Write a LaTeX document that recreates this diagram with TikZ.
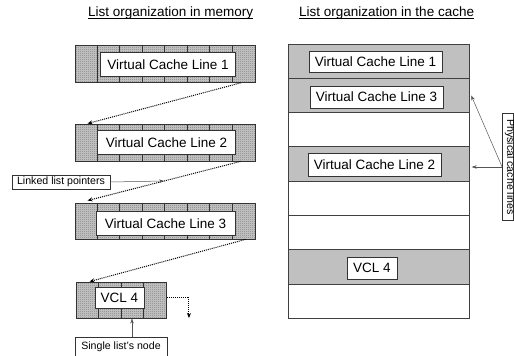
\documentclass[tikz,border=0pt]{standalone}
\usepackage{fontspec}
\setmainfont{Liberation Sans}
\usetikzlibrary{patterns,calc,arrows.meta}
\definecolor{ink}{HTML}{333333}
\definecolor{linegray}{HTML}{404040}
\definecolor{cachegray}{HTML}{C0C0C0}
\definecolor{capgray}{HTML}{C8C8C8}
\definecolor{stipple}{HTML}{808080}
\definecolor{leadgray}{HTML}{555555}

% fine checkerboard stipple used for the memory rows
\pgfdeclarepatternformonly{finestipple}{\pgfpointorigin}{\pgfqpoint{2pt}{2pt}}{\pgfqpoint{2pt}{2pt}}{%
  \pgfpathrectangle{\pgfpointorigin}{\pgfqpoint{1pt}{1pt}}%
  \pgfpathrectangle{\pgfqpoint{1pt}{1pt}}{\pgfqpoint{1pt}{1pt}}%
  \pgfusepath{fill}}

% one stippled memory row: name, centre x, centre y, number of cells, height
\newcommand\memrow[5]{%
  \node[memblk, minimum width=#4*22.5pt, minimum height=#5pt] (#1) at (#2,#3) {};
  \pgfmathtruncatemacro\lastcell{#4-1}
  \foreach \k in {1,...,\lastcell}{
    \draw[ink, line width=0.9pt] ($(#1.north west)+(\k*22.5,0)$) -- ($(#1.south west)+(\k*22.5,0)$);
  }%
}

\begin{document}
\begin{tikzpicture}[x=1pt,y=-1pt,
  every node/.style={inner sep=0pt, text=black},
  big/.style={font=\fontsize{13.5}{16}\selectfont},
  small/.style={font=\fontsize{10.6}{12}\selectfont},
  memblk/.style={draw=ink, line width=0.9pt, preaction={fill=capgray},
                 pattern=finestipple, pattern color=stipple},
  vbox/.style={draw=ink, line width=0.9pt, fill=white, big, minimum height=24pt},
  crow/.style={draw=linegray, line width=0.9pt, minimum width=181pt, minimum height=34.3pt},
  notebox/.style={draw=ink, line width=0.7pt, fill=white, small, inner xsep=5pt, inner ysep=2pt},
  ptr/.style={dash pattern=on 1pt off 1pt, line width=1pt, -{Stealth[length=5pt,width=4pt]}},
  lead/.style={draw=leadgray, line width=0.5pt, -{Stealth[length=5pt,width=3.5pt]}},
]
\useasboundingbox (0,0) rectangle (514,356);

% titles
\node[big, anchor=base west] (t1) at (88,16.7) {List organization in memory};
\node[big, anchor=base west] (t2) at (299,16.7) {List organization in the cache};
\draw[line width=0.6pt] ($(t1.base west)+(0,1.8)$) -- ($(t1.base east)+(0,1.8)$);
\draw[line width=0.6pt] ($(t2.base west)+(0,1.8)$) -- ($(t2.base east)+(0,1.8)$);

% list in memory
\memrow{m1}{165}{63.5}{8}{37}
\node[vbox, minimum width=135pt] (v1) at (168,64.5) {Virtual Cache Line 1};
\memrow{m2}{165}{142.5}{8}{37}
\node[vbox, minimum width=138pt] (v2) at (166.5,142.5) {Virtual Cache Line 2};
\memrow{m3}{165}{221}{8}{36}
\node[vbox, minimum width=139pt] (v3) at (165.5,223.5) {Virtual Cache Line 3};
\memrow{m4}{121.5}{300}{4}{36}
\node[vbox, minimum width=49pt, minimum height=21pt] (v4) at (119.5,298) {VCL 4};

% next pointers
\coordinate (p1s) at ($(m1.south east)+(-15,0.5)$);
\coordinate (p1e) at ($(m2.north west)+(13,0)$);
\coordinate (p2s) at ($(m2.south east)+(-15,0)$);
\coordinate (p2e) at ($(m3.north west)+(13,-2)$);
\coordinate (p3s) at ($(m3.south east)+(-10,0)$);
\coordinate (p3e) at ($(m4.north west)+(13.5,0)$);
\coordinate (p4s) at ($(m4.east)+(0,-3)$);
\coordinate (p4e) at ($(m4.east)+(22,18)$);
\draw[ptr] (p1s) -- (p1e);
\draw[ptr] (p2s) -- (p2e);
\draw[ptr] (p3s) -- (p3e);
\draw[ptr] (p4s) -| (p4e);

% callouts on the left
\node[notebox] (ll) at (61,182) {Linked list pointers};
\coordinate (llhit) at ($(p2s)!0.5!(p2e)$);
\draw[lead] (ll.east) -- (llhit);
\node[notebox, minimum width=92pt, minimum height=19pt] (sn) at (121,346.5) {Single list's node};
\coordinate (snfoot) at ($(sn.north)+(11,0)$);
\draw[lead] (snfoot) -- (snfoot |- m4.south);

% cache lines
\foreach \i/\shade in {1/cachegray,2/cachegray,3/white,4/cachegray,5/white,6/white,7/cachegray,8/white}{
  \node[crow, fill=\shade] (c\i) at (378.75,{44+34.3*(\i-0.5)}) {};
}
\node[vbox, minimum width=133pt, minimum height=21pt] (k1) at (375.5,61.5) {Virtual Cache Line 1};
\node[vbox, minimum width=133pt, minimum height=22pt] (k3) at (376.5,97) {Virtual Cache Line 3};
\node[vbox, minimum width=133pt, minimum height=23pt] (k2) at (374.5,164.5) {Virtual Cache Line 2};
\node[vbox, minimum width=50pt, minimum height=22pt] (k4) at (372,268) {VCL 4};

% physical cache lines callout
\node[draw=ink, line width=0.7pt, minimum width=11pt, minimum height=107pt] (pc) at (508,167) {};
\node[small, rotate=-90, anchor=base] (pct) at (507,167) {Physical cache lines};
\draw[lead] (pc.west) -- ($(c4.east |- pc.west)+(2,0)$);
\draw[lead] (pc.west) -- ($(c2.east)+(1.5,0)$);
\end{tikzpicture}
\end{document}
